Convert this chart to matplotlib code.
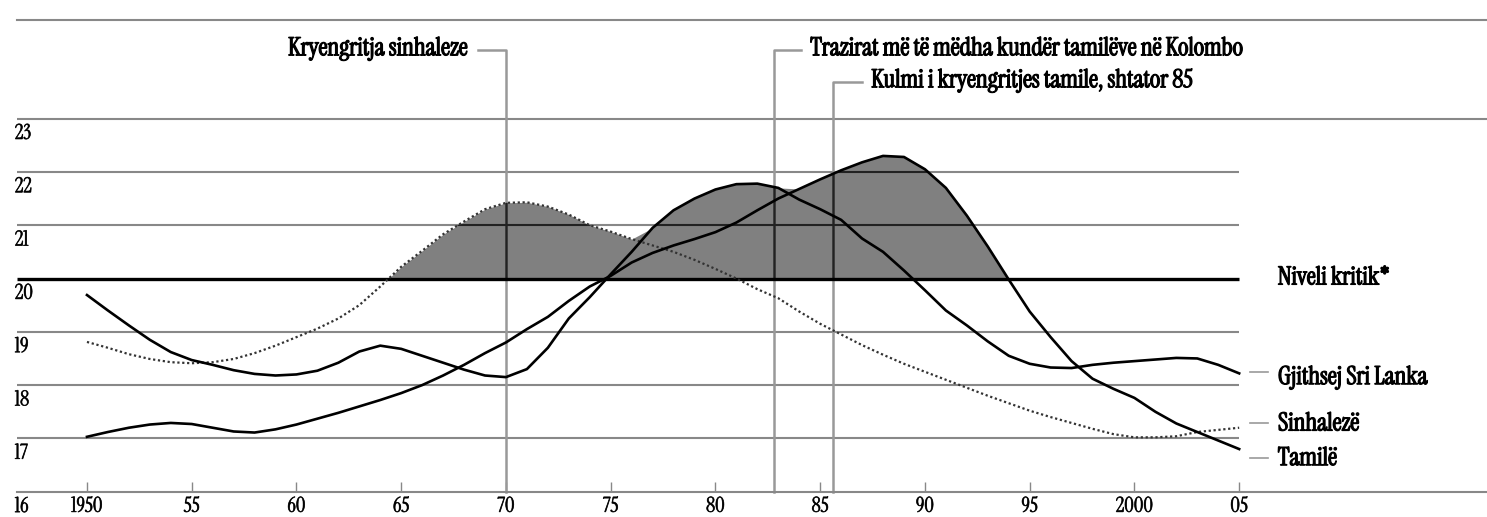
import matplotlib
matplotlib.use('Agg')
import matplotlib.pyplot as plt
import matplotlib.patheffects as pe
import numpy as np

# Data
years = list(range(1950, 2006))
total = [19.69, 19.40, 19.12, 18.85, 18.62, 18.47, 18.38, 18.28, 18.21, 18.18,
         18.20, 18.27, 18.42, 18.63, 18.74, 18.68, 18.55, 18.42, 18.29, 18.18,
         18.15, 18.30, 18.70, 19.25, 19.65, 20.08, 20.50, 20.95, 21.28, 21.50,
         21.67, 21.77, 21.78, 21.70, 21.48, 21.30, 21.10, 20.75, 20.50, 20.15,
         19.78, 19.40, 19.12, 18.82, 18.55, 18.40, 18.33, 18.32, 18.38, 18.42,
         18.45, 18.48, 18.51, 18.50, 18.38, 18.22]
sinhalese = [18.81, 18.70, 18.58, 18.49, 18.43, 18.41, 18.43, 18.49, 18.60, 18.74,
             18.90, 19.06, 19.25, 19.50, 19.85, 20.22, 20.52, 20.83, 21.07, 21.30,
             21.42, 21.43, 21.35, 21.20, 21.00, 20.88, 20.74, 20.62, 20.50, 20.35,
             20.18, 20.00, 19.80, 19.63, 19.38, 19.15, 18.95, 18.75, 18.57, 18.40,
             18.25, 18.10, 17.95, 17.80, 17.66, 17.52, 17.40, 17.29, 17.18, 17.08,
             17.02, 17.02, 17.04, 17.12, 17.16, 17.20]
tamil = [17.03, 17.12, 17.20, 17.26, 17.29, 17.27, 17.20, 17.13, 17.11, 17.17,
         17.26, 17.37, 17.48, 17.60, 17.72, 17.85, 18.00, 18.18, 18.38, 18.60,
         18.80, 19.05, 19.28, 19.58, 19.85, 20.05, 20.30, 20.48, 20.62, 20.74,
         20.87, 21.05, 21.28, 21.50, 21.68, 21.86, 22.03, 22.18, 22.30, 22.28,
         22.05, 21.70, 21.18, 20.60, 19.98, 19.38, 18.90, 18.45, 18.12, 17.93,
         17.76, 17.50, 17.28, 17.12, 16.96, 16.80]

critical = 20
grid_levels = [17, 18, 19, 21, 22]
ytick_vals = [16, 17, 18, 19, 20, 21, 22, 23]
xtick_vals = [1950, 1955, 1960, 1965, 1970, 1975, 1980, 1985, 1990, 1995, 2000, 2005]
xtick_labels = ['1950', '55', '60', '65', '70', '75', '80', '85', '90', '95', '2000', '05']

events = [1970, 1982.8, 1985.6]
event_labels = ['Kryengritja sinhaleze',
                'Trazirat më të mëdha kundër tamilëve në Kolombo',
                'Kulmi i kryengritjes tamile, shtator 85']

plt.rcParams['font.family'] = ['Instrument Serif', 'Liberation Serif', 'DejaVu Serif']
bold = [pe.withStroke(linewidth=0.9, foreground='black')]
semi = [pe.withStroke(linewidth=0.5, foreground='#222222')]

fig = plt.figure(figsize=(14.87, 5.17), dpi=100)
ax = fig.add_axes([17 / 1487, 25.3 / 517, 1470 / 1487, 471.7 / 517])
x0, x1 = 1946.66, 2016.83
ax.set_xlim(x0, x1)
ax.set_ylim(16, 24.85)

for s in ['left', 'right']:
    ax.spines[s].set_visible(False)
for s in ['top', 'bottom']:
    ax.spines[s].set_color('#888888')
    ax.spines[s].set_linewidth(1.5)

# shaded area above the critical level
env = np.max([total, sinhalese, tamil], axis=0)
poly = ax.fill_between(years, critical, env, where=env >= critical,
                       interpolate=True, color='#808080', lw=0, zorder=1)
clip = poly.get_paths()[0]

# grid lines
ax.hlines(grid_levels, x0, 2005, color='#888888', lw=1.5, zorder=2)
ax.axhline(23, color='#888888', lw=1.5, zorder=2)
ax.hlines(critical, x0, 2005, color='black', lw=2.4, zorder=3)
for v in grid_levels:
    ln, = ax.plot([x0, 2005], [v, v], color='#222222', lw=1.5, zorder=2.5)
    ln.set_clip_path(clip, ax.transData)

# event markers
tops = [24.29, 24.29, 23.69]
ends = [1968.66, 1984.08, 1986.99]
for ev, top, end, lab in zip(events, tops, ends, event_labels):
    ax.plot([end, ev, ev], [top, top, 16], color='#999999', lw=1.8, zorder=2,
            clip_on=False)
    ln, = ax.plot([ev, ev], [16, top], color='#222222', lw=1.8, zorder=2.5)
    ln.set_clip_path(clip, ax.transData)
    if end < ev:
        ax.text(end - 0.45, top + 0.03, lab, ha='right', va='center',
                fontsize=18, path_effects=bold)
    else:
        ax.text(end + 0.45, top + 0.03, lab, ha='left', va='center',
                fontsize=18, path_effects=bold)

# curves
ax.plot(years, sinhalese, color='#333333', lw=1.6, linestyle=(0, (1, 1.2)), zorder=4)
ax.plot(years, total, color='black', lw=1.9, zorder=5)
ax.plot(years, tamil, color='black', lw=1.9, zorder=5)

# right-hand labels
ax.text(2006.85, 20.02, 'Niveli kritik*', ha='left', va='center',
        fontsize=18, path_effects=bold)
for ylab, yline, lab in [(18.15, 18.24, 'Gjithsej Sri Lanka'),
                         (17.28, 17.28, 'Sinhalezë'),
                         (16.63, 16.64, 'Tamilë')]:
    ax.plot([2005.51, 2006.37], [yline, yline], color='#999999', lw=1.2)
    ax.text(2006.85, ylab, lab, ha='left', va='center',
            fontsize=18, path_effects=bold)

# axis ticks and labels
ax.set_xticks(xtick_vals)
ax.set_xticklabels(xtick_labels, path_effects=semi)
ax.tick_params(axis='x', direction='in', length=7, width=1, color='#888888',
               pad=3, labelsize=15)
ax.set_yticks([])
for v in ytick_vals:
    ax.text(x0 - 0.1, v - 0.27, str(v), ha='left', va='center', fontsize=15,
            clip_on=False, path_effects=semi)

fig.savefig('out.png', dpi=100)
